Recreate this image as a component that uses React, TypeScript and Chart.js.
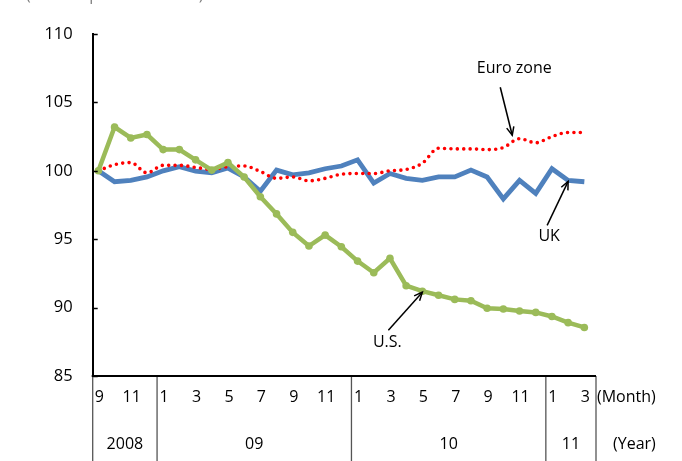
import React, { useEffect, useRef } from "react";
import { Chart, registerables } from "chart.js";

Chart.register(...registerables);

// Categories: months from 2008-09 to 2011-03
const monthLabels = [
  "9", "10", "11", "12",
  "1", "2", "3", "4", "5", "6", "7", "8", "9", "10", "11", "12",
  "1", "2", "3", "4", "5", "6", "7", "8", "9", "10", "11", "12",
  "1", "2", "3",
];
const yearLabels = ["2008", "09", "10", "11"];

// Series (index, September 2008 = 100)
const usValues = [
  100.0, 103.2, 102.4, 102.65, 101.55, 101.55, 100.8, 100.05, 100.6, 99.55, 98.1,
  96.85, 95.5, 94.5, 95.3, 94.45, 93.4, 92.55, 93.6, 91.6, 91.2, 90.9, 90.6, 90.5,
  89.95, 89.9, 89.75, 89.65, 89.35, 88.9, 88.55,
];
const ukValues = [
  100.0, 99.2, 99.3, 99.55, 100.0, 100.3, 99.98, 99.85, 100.2, 99.55, 98.5,
  100.05, 99.7, 99.85, 100.15, 100.35, 100.8, 99.1, 99.8, 99.45, 99.3, 99.55, 99.55,
  100.05, 99.55, 97.95, 99.3, 98.35, 100.15, 99.3, 99.2,
];
const euroValues = [
  100.0, 100.45, 100.6, 99.85, 100.4, 100.4, 100.25, 100.1, 100.3, 100.35, 99.95,
  99.45, 99.55, 99.27, 99.45, 99.75, 99.8, 99.8, 100.0, 100.1, 100.55, 101.65, 101.6,
  101.6, 101.55, 101.7, 102.35, 102.05, 102.5, 102.8, 102.8,
];
const yTicks = [85, 90, 95, 100, 105, 110];

const FONT = "'Open Sans', 'DejaVu Sans', sans-serif";

const tablePlugin = {
  id: "tablePlugin",
  afterDraw(chart: any) {
    const { ctx, chartArea, scales } = chart;
    const { left, right, bottom } = chartArea;
    const x = scales.x;
    const y = scales.y;
    const H = chart.height;
    ctx.save();

    // y tick marks (inside)
    ctx.strokeStyle = "#000";
    ctx.lineWidth = 1.5;
    yTicks.forEach((v) => {
      const py = Math.round(y.getPixelForValue(v)) + 0.5;
      ctx.beginPath();
      ctx.moveTo(left, py);
      ctx.lineTo(left + 5, py);
      ctx.stroke();
    });

    // vertical table lines
    const boundaries: number[] = [];
    monthLabels.forEach((m, i) => {
      if (m === "1") boundaries.push(i);
    });
    ctx.strokeStyle = "#555555";
    ctx.lineWidth = 1.3;
    const edges = [left, ...boundaries.map((i) => x.getPixelForValue(i - 0.5) + 2), right];
    edges.forEach((px) => {
      ctx.beginPath();
      ctx.moveTo(px, bottom);
      ctx.lineTo(px, H);
      ctx.stroke();
    });

    // x axis line
    ctx.strokeStyle = "#000";
    ctx.lineWidth = 2;
    ctx.beginPath();
    ctx.moveTo(left - 1, bottom);
    ctx.lineTo(right, bottom);
    ctx.stroke();

    // month labels
    ctx.fillStyle = "#000";
    ctx.font = `16px ${FONT}`;
    ctx.textBaseline = "middle";
    ctx.textAlign = "center";
    monthLabels.forEach((m, i) => {
      if (parseInt(m, 10) % 2 === 1) {
        ctx.fillText(m, x.getPixelForValue(i) + 1, 397);
      }
    });

    // year labels
    yearLabels.forEach((yl, k) => {
      ctx.fillText(yl, (edges[k] + edges[k + 1]) / 2, 444);
    });

    ctx.textAlign = "left";
    ctx.fillText("(Month)", 597, 397);
    ctx.fillText("(Year)", 613, 444);

    // annotations with arrows
    const arrow = (x1: number, y1: number, x2: number, y2: number) => {
      ctx.strokeStyle = "#000";
      ctx.lineWidth = 1.5;
      ctx.beginPath();
      ctx.moveTo(x1, y1);
      ctx.lineTo(x2, y2);
      ctx.stroke();
      const a = Math.atan2(y2 - y1, x2 - x1);
      const L = 9;
      const s = 0.42;
      ctx.beginPath();
      ctx.moveTo(x2 - L * Math.cos(a - s), y2 - L * Math.sin(a - s));
      ctx.lineTo(x2, y2);
      ctx.lineTo(x2 - L * Math.cos(a + s), y2 - L * Math.sin(a + s));
      ctx.stroke();
    };
    const ex = x.getPixelForValue(25.55);
    const ey = y.getPixelForValue(102.6);
    arrow(ex - 12, ey - 48, ex, ey);
    const ux = x.getPixelForValue(29);
    const uy = y.getPixelForValue(99.3) + 1;
    arrow(ux - 21, uy + 44, ux, uy);
    const sx = x.getPixelForValue(20);
    const sy = y.getPixelForValue(91.2) + 1;
    arrow(sx - 34, sy + 38, sx, sy);

    ctx.textAlign = "center";
    ctx.fillStyle = "#000";
    ctx.fillText("Euro zone", ex + 2, ey - 67);
    ctx.fillText("UK", ux - 19, uy + 55);
    ctx.fillText("U.S.", sx - 35, sy + 50);

    // cut-off subtitle at top
    ctx.fillStyle = "#7f7f7f";
    ctx.textAlign = "left";
    ctx.textBaseline = "alphabetic";
    ctx.fillText("(2008 September = 100)", 26, 0);

    ctx.restore();
  },
};

export default function App() {
  const ref = useRef<HTMLCanvasElement | null>(null);

  useEffect(() => {
    if (!ref.current) return;
    const toXY = (arr: number[]) => arr.map((v, i) => ({ x: i, y: v }));
    const chart = new Chart(ref.current, {
      type: "line",
      data: {
        datasets: [
          {
            label: "U.S.",
            data: toXY(usValues),
            borderColor: "#9BBB59",
            backgroundColor: "#9BBB59",
            borderWidth: 4.5,
            pointRadius: 3.8,
            pointBorderWidth: 0,
            pointBackgroundColor: "#9BBB59",
            tension: 0,
          },
          {
            label: "Euro zone",
            data: toXY(euroValues),
            borderColor: "#FF0000",
            borderWidth: 3.6,
            borderDash: [0, 6.4],
            borderCapStyle: "round",
            pointRadius: 0,
            cubicInterpolationMode: "monotone",
          },
          {
            label: "UK",
            data: toXY(ukValues),
            borderColor: "#4F81BD",
            borderWidth: 4.8,
            pointRadius: 0,
            tension: 0,
          },
        ],
      } as any,
      options: {
        animation: false,
        responsive: false,
        devicePixelRatio: 1,
        layout: { padding: { left: 0, top: 34, right: 86, bottom: 85 } },
        plugins: { legend: { display: false }, tooltip: { enabled: false } },
        scales: {
          x: {
            type: "linear",
            min: -0.35,
            max: 30.72,
            display: false,
          },
          y: {
            min: 85,
            max: 110,
            afterFit: (s: any) => {
              s.width = 92.7;
            },
            afterBuildTicks: (s: any) => {
              s.ticks = yTicks.map((v) => ({ value: v }));
            },
            grid: { display: false, drawTicks: false },
            border: { display: true, color: "#000", width: 2 },
            ticks: {
              padding: 20,
              color: "#000",
              font: { family: FONT, size: 16.5 },
            },
          },
        },
      } as any,
      plugins: [tablePlugin],
    });
    return () => chart.destroy();
  }, []);

  return (
    <div style={{ position: "fixed", left: 0, top: 0, width: 682, height: 461, background: "#fff" }}>
      <canvas ref={ref} width={682} height={461} style={{ display: "block" }} />
    </div>
  );
}
